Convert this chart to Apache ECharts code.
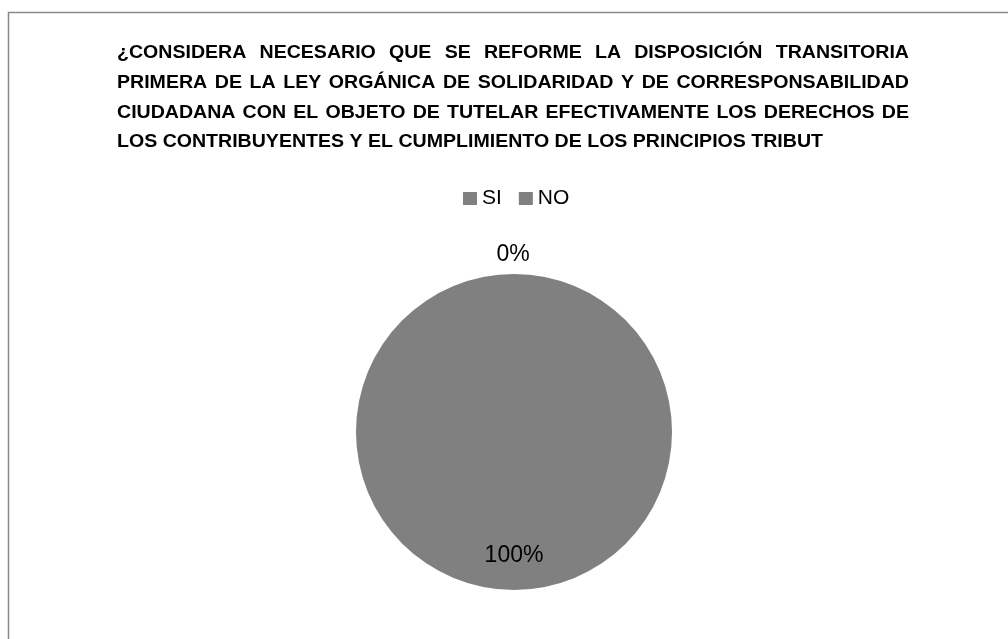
<!DOCTYPE html>
<html>
<head>
<meta charset="utf-8">
<script src="https://cdn.jsdelivr.net/npm/echarts@6/dist/echarts.min.js"></script>
<style>
html,body{margin:0;padding:0;background:#fff;}
#chart{width:1008px;height:639px;}
</style>
</head>
<body>
<div id="chart"></div>
<script>
const categories = ['SI', 'NO'];
const values = [100, 0];
const titleLines = [
  '¿CONSIDERA NECESARIO QUE SE REFORME LA DISPOSICIÓN TRANSITORIA',
  'PRIMERA DE LA LEY ORGÁNICA DE SOLIDARIDAD Y DE CORRESPONSABILIDAD',
  'CIUDADANA CON EL OBJETO DE TUTELAR EFECTIVAMENTE LOS DERECHOS DE',
  'LOS CONTRIBUYENTES Y EL CUMPLIMIENTO DE LOS PRINCIPIOS TRIBUT'
];

const FONT = '"Liberation Sans", Arial, sans-serif';
const chart = echarts.init(document.getElementById('chart'), null, {renderer: 'canvas'});

// title layout: justified lines, last line left aligned, horizontally condensed
const ctx = document.createElement('canvas').getContext('2d');
const titleLeft = 117, titleRight = 909, lastRight = 823;
const fs = 18;
function measure(t) { ctx.font = 'bold ' + fs + 'px ' + FONT; return ctx.measureText(t).width; }
const sx = (lastRight - titleLeft) / measure(titleLines[3]);
const lineY = [53, 83, 113, 142];
const graphics = [{
  type: 'rect', shape: {x: 8.5, y: 12.5, width: 1100, height: 700},
  style: {fill: 'none', stroke: '#898989', lineWidth: 1.5}, silent: true
}];
function addText(t, x, y) {
  graphics.push({type: 'text', x: x, y: y, scaleX: sx,
    style: {text: t, font: 'bold ' + fs + 'px ' + FONT, fill: '#000', verticalAlign: 'middle', align: 'left'}});
}
titleLines.forEach((line, i) => {
  if (i === titleLines.length - 1) { addText(line, titleLeft, lineY[i]); return; }
  const words = line.split(' ');
  const widths = words.map(w => measure(w) * sx);
  const total = widths.reduce((a, b) => a + b, 0);
  const gap = (titleRight - titleLeft - total) / (words.length - 1);
  let x = titleLeft;
  words.forEach((w, k) => { addText(w, x, lineY[i]); x += widths[k] + gap; });
});

const option = {
  backgroundColor: '#fff',
  animation: false,
  graphic: graphics,
  legend: {
    data: categories,
    left: 458, top: 183,
    icon: 'rect', itemWidth: 14, itemHeight: 13, itemGap: 17,
    textStyle: {fontFamily: FONT, fontSize: 21, color: '#000'},
    selectedMode: false
  },
  series: [{
    type: 'pie',
    center: [514, 432],
    radius: [0, 158],
    startAngle: 90,
    clockwise: true,
    stillShowZeroSum: true,
    minShowLabelAngle: 0,
    itemStyle: {color: '#808080'},
    labelLine: {show: false, length: 8, length2: 0},
    data: categories.map((c, i) => ({
      name: c, value: values[i],
      label: i === 0
        ? {show: true, position: 'inside', formatter: '{d}%', fontFamily: FONT, fontSize: 23, color: '#000'}
        : {show: true, position: 'outside', formatter: '{d}%', fontFamily: FONT, fontSize: 23, color: '#000'}
    })),
    labelLayout: function (p) {
      if (p.dataIndex === 0) return {dy: 42};
      return {align: 'center', verticalAlign: 'bottom', dx: -6};
    }
  }]
};
chart.setOption(option);
</script>
</body>
</html>
